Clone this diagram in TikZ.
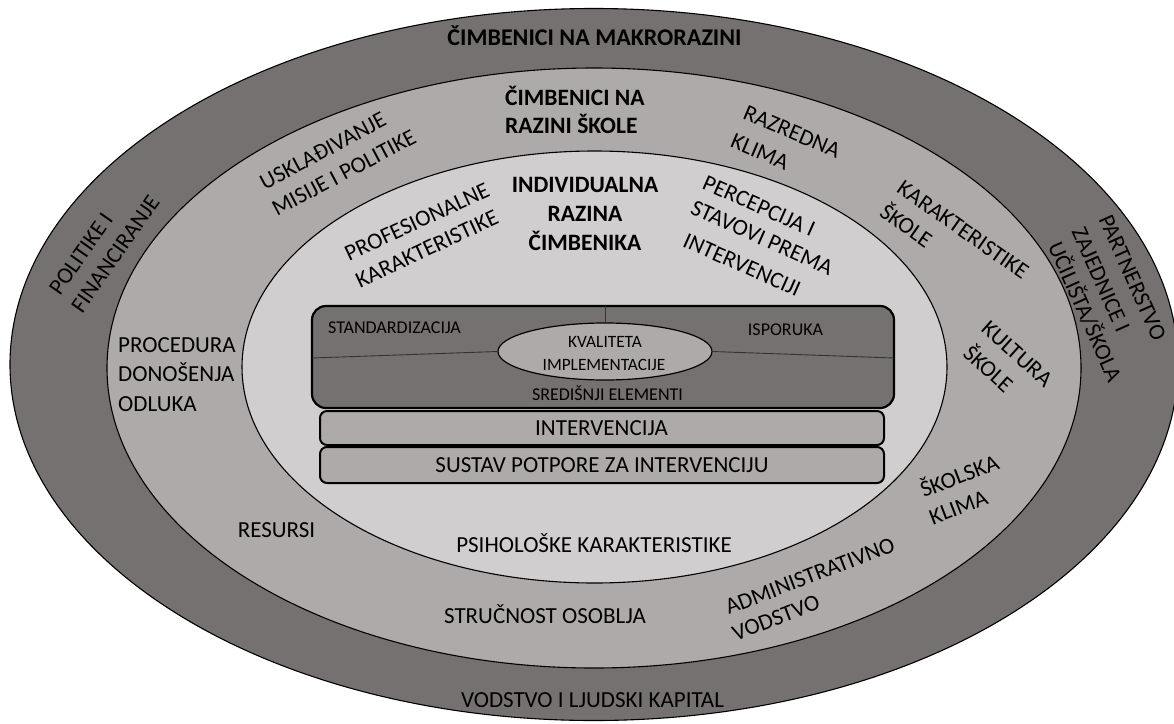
\documentclass[tikz,border=0pt]{standalone}
\usepackage{fontspec}
\setmainfont{Carlito}
\usetikzlibrary{shapes.geometric}
\definecolor{ringdark}{HTML}{767171}
\definecolor{ringmid}{HTML}{AEAAAA}
\definecolor{ringlight}{HTML}{D0CECE}
\begin{document}
\begin{tikzpicture}[x=1pt,y=-1pt,
  lbl/.style={inner sep=0pt, font=\fontsize{23}{29}\selectfont, text height=14.5pt, text depth=0pt},
  lblb/.style={lbl, font=\fontsize{23.5}{29}\selectfont\bfseries},
  sml/.style={inner sep=0pt, font=\fontsize{18}{21}\selectfont, text height=11.3pt, text depth=0pt},
  ring/.style={draw=black, line width=1.1pt},
  corebox/.style={draw=black, line width=2.2pt, fill=ringdark, rounded corners=14pt},
  layerbox/.style={draw=black, line width=2pt, fill=ringmid, rounded corners=7pt},
  kvell/.style={ellipse, draw=black, line width=1.2pt, fill=ringmid, inner sep=0pt},
  thin/.style={draw=black!80, line width=0.9pt}]
\useasboundingbox (0,0) rectangle (1174,723);
\fill[white] (0,0) rectangle (1174,723);
% rings
\draw[ring, fill=ringdark] (594,364.5) ellipse [x radius=584pt, y radius=356pt];
\draw[ring, fill=ringmid] (594,368) ellipse [x radius=487pt, y radius=300pt];
\draw[ring, fill=ringlight] (594.5,367) ellipse [x radius=352.5pt, y radius=216pt];
% central block
\node[corebox, minimum width=582pt, minimum height=102pt] (core) at (603,357) {};
\node[kvell, minimum width=214pt, minimum height=57pt] (kv) at (605,351.5) {};
\coordinate (coretop) at (605,306);
\coordinate (coreleft) at (312,358);
\coordinate (coreright) at (894,358);
\draw[thin] (coretop) -- (kv.north);
\draw[thin] (coreleft) -- (kv.west);
\draw[thin] (kv.east) -- (coreright);
\node[layerbox, minimum width=564pt, minimum height=34pt] (interv) at (602,428) {};
\node[layerbox, minimum width=564pt, minimum height=36pt] (sustav) at (602,465) {};
% small texts in core
\node[sml, anchor=base] (std) at (394.5,333) {STANDARDIZACIJA};
\node[sml, anchor=base] (isp) at (785.5,335) {ISPORUKA};
\node[sml, anchor=base, font=\fontsize{17.3}{21}\selectfont] (kv1) at (605,347) {KVALITETA};
\node[sml, anchor=base, font=\fontsize{17.3}{21}\selectfont] (kv2) at (604,370) {IMPLEMENTACIJE};
\node[sml, anchor=base] (sre) at (607.5,400) {SREDIŠNJI ELEMENTI};
\node[lbl, anchor=base] (intt) at (601.5,435) {INTERVENCIJA};
\node[lbl, anchor=base] (sust) at (602,472) {SUSTAV POTPORE ZA INTERVENCIJU};
% bold titles
\node[lblb, anchor=base, font=\fontsize{24}{29}\selectfont\bfseries] (t1) at (594.5,45) {ČIMBENICI NA MAKRORAZINI};
\node[lblb, anchor=base west] (t2a) at (505,105) {ČIMBENICI NA};
\node[lblb, anchor=base west] (t2b) at (505,133) {RAZINI ŠKOLE};
\node[lblb, anchor=base] (t3a) at (585,192) {INDIVIDUALNA};
\node[lblb, anchor=base] (t3b) at (585,221) {RAZINA};
\node[lblb, anchor=base] (t3c) at (585,250) {ČIMBENIKA};
% horizontal labels
\node[lbl, anchor=base west] (pr1) at (118,352) {PROCEDURA};
\node[lbl, anchor=base west] (pr2) at (118,381.5) {DONOŠENJA};
\node[lbl, anchor=base west] (pr3) at (118,411) {ODLUKA};
\node[lbl, anchor=base] (res) at (276.5,537) {RESURSI};
\node[lbl, anchor=base] (psi) at (594,552) {PSIHOLOŠKE KARAKTERISTIKE};
\node[lbl, anchor=base] (str) at (545,623) {STRUČNOST OSOBLJA};
\node[lbl, anchor=base] (vod) at (592.5,707) {VODSTVO I LJUDSKI KAPITAL};
% rotated labels
\node[lbl, rotate=55] (pol1) at (81,254) {POLITIKE I};
\node[lbl, rotate=55] (pol2) at (115.5,254) {FINANCIRANJE};
\node[lbl, rotate=28] (usk1) at (323,151) {USKLAĐIVANJE};
\node[lbl, rotate=28] (usk2) at (344,173) {MISIJE I POLITIKE};
\node[lbl, rotate=25] (prof1) at (417,222) {PROFESIONALNE};
\node[lbl, rotate=25] (prof2) at (427,249) {KARAKTERISTIKE};
\node[lbl, rotate=-23] (raz1) at (792,132) {RAZREDNA};
\node[lbl, rotate=-23] (raz2) at (760,152) {KLIMA};
\node[lbl, rotate=-24] (per1) at (759,206) {PERCEPCIJA I};
\node[lbl, rotate=-24] (per2) at (762,238) {STAVOVI PREMA};
\node[lbl, rotate=-24] (per3) at (742,265) {INTERVENCIJI};
\node[lbl, rotate=-35] (kar1) at (963,230) {KARAKTERISTIKE};
\node[lbl, rotate=-35] (kar2) at (906,226) {ŠKOLE};
\node[lbl, rotate=-66] (par1) at (1132.4,277.9) {PARTNERSTVO};
\node[lbl, rotate=-66] (par2) at (1100.7,280) {ZAJEDNICE I};
\node[lbl, rotate=-66] (par3) at (1084.7,311.8) {UČILIŠTA/ŠKOLA};
\node[lbl, rotate=-42] (kul1) at (1017,354) {KULTURA};
\node[lbl, rotate=-42] (kul2) at (988,369) {ŠKOLE};
\node[lbl, rotate=21] (sko1) at (959.5,476.5) {ŠKOLSKA};
\node[lbl, rotate=21] (sko2) at (958.5,507.5) {KLIMA};
\node[lbl, rotate=21] (adm1) at (810,576) {ADMINISTRATIVNO};
\node[lbl, rotate=21] (adm2) at (776,618) {VODSTVO};
\end{tikzpicture}
\end{document}
